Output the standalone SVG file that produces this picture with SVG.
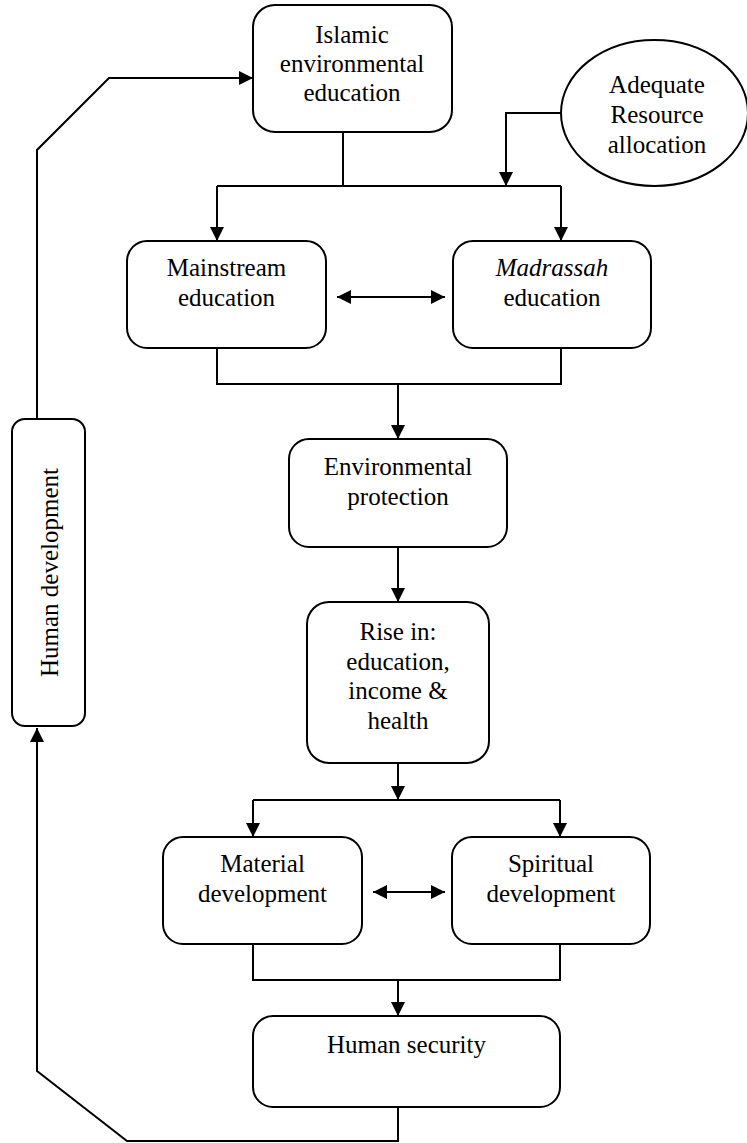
<svg xmlns="http://www.w3.org/2000/svg" width="747" height="1143" viewBox="0 0 747 1143">
<style>
.box{fill:#fff;stroke:#000;stroke-width:2}
.ln{fill:none;stroke:#000;stroke-width:2}
.t{font-family:"Liberation Serif","Times New Roman",serif;font-size:25px;fill:#000;text-anchor:middle}
</style>
<defs>
<marker id="ah" markerUnits="userSpaceOnUse" markerWidth="14" markerHeight="14" viewBox="0 0 14 14" refX="14" refY="7" orient="auto-start-reverse">
<path d="M0,0 L14,7 L0,14 z" fill="#000"/>
</marker>
</defs>
<rect width="747" height="1143" fill="#fff"/>
<g id="connectors">
<path class="ln" d="M343,132 V186 M217,186 H561"/>
<path class="ln" d="M217,186 V241" marker-end="url(#ah)"/>
<path class="ln" d="M561,186 V241" marker-end="url(#ah)"/>
<path class="ln" d="M561,113 H506 V186" marker-end="url(#ah)"/>
<path class="ln" d="M337,297 H445" marker-start="url(#ah)" marker-end="url(#ah)"/>
<path class="ln" d="M217,348 V384 H561 V348"/>
<path class="ln" d="M398,384 V439" marker-end="url(#ah)"/>
<path class="ln" d="M398,547 V602" marker-end="url(#ah)"/>
<path class="ln" d="M398,763 V800" marker-end="url(#ah)"/>
<path class="ln" d="M253,800 H560"/>
<path class="ln" d="M253,800 V837" marker-end="url(#ah)"/>
<path class="ln" d="M560,800 V837" marker-end="url(#ah)"/>
<path class="ln" d="M373,892 H445" marker-start="url(#ah)" marker-end="url(#ah)"/>
<path class="ln" d="M253,944 V980 H560 V944"/>
<path class="ln" d="M398,980 V1016" marker-end="url(#ah)"/>
<path class="ln" d="M398,1107 V1141 H127 L37,1071 V728" marker-end="url(#ah)"/>
<path class="ln" d="M37,419 V150 L109,78 H253" marker-end="url(#ah)"/>
</g>
<g id="islamic">
<rect class="box" x="253" y="5" width="199" height="127" rx="22"/>
<text class="t" x="352" y="43">Islamic</text>
<text class="t" x="352" y="72">environmental</text>
<text class="t" x="352" y="101">education</text>
</g>
<g id="resource">
<ellipse class="box" cx="654.5" cy="113" rx="93.5" ry="73"/>
<text class="t" x="657" y="93">Adequate</text>
<text class="t" x="657" y="123">Resource</text>
<text class="t" x="657" y="153">allocation</text>
</g>
<g id="mainstream">
<rect class="box" x="127" y="241" width="199" height="107" rx="20"/>
<text class="t" x="226.5" y="276">Mainstream</text>
<text class="t" x="226.5" y="306">education</text>
</g>
<g id="madrassah">
<rect class="box" x="453" y="241" width="198" height="107" rx="20"/>
<text class="t" x="552" y="276" font-style="italic">Madrassah</text>
<text class="t" x="552" y="306">education</text>
</g>
<g id="envprot">
<rect class="box" x="289" y="439" width="218" height="108" rx="20"/>
<text class="t" x="398" y="475">Environmental</text>
<text class="t" x="398" y="505">protection</text>
</g>
<g id="rise">
<rect class="box" x="307" y="602" width="182" height="161" rx="22"/>
<text class="t" x="398" y="640">Rise in:</text>
<text class="t" x="398" y="669.5">education,</text>
<text class="t" x="398" y="699">income &amp;</text>
<text class="t" x="398" y="728.5">health</text>
</g>
<g id="material">
<rect class="box" x="163" y="837" width="199" height="107" rx="20"/>
<text class="t" x="262.5" y="872">Material</text>
<text class="t" x="262.5" y="902">development</text>
</g>
<g id="spiritual">
<rect class="box" x="452" y="837" width="198" height="107" rx="20"/>
<text class="t" x="551" y="872">Spiritual</text>
<text class="t" x="551" y="902">development</text>
</g>
<g id="humansecurity">
<rect class="box" x="253" y="1016" width="307" height="91" rx="20"/>
<text class="t" x="406.5" y="1053">Human security</text>
</g>
<g id="humandev">
<rect class="box" x="12" y="419" width="73" height="307" rx="13"/>
<text class="t" transform="translate(58,572.5) rotate(-90)">Human development</text>
</g>
</svg>
